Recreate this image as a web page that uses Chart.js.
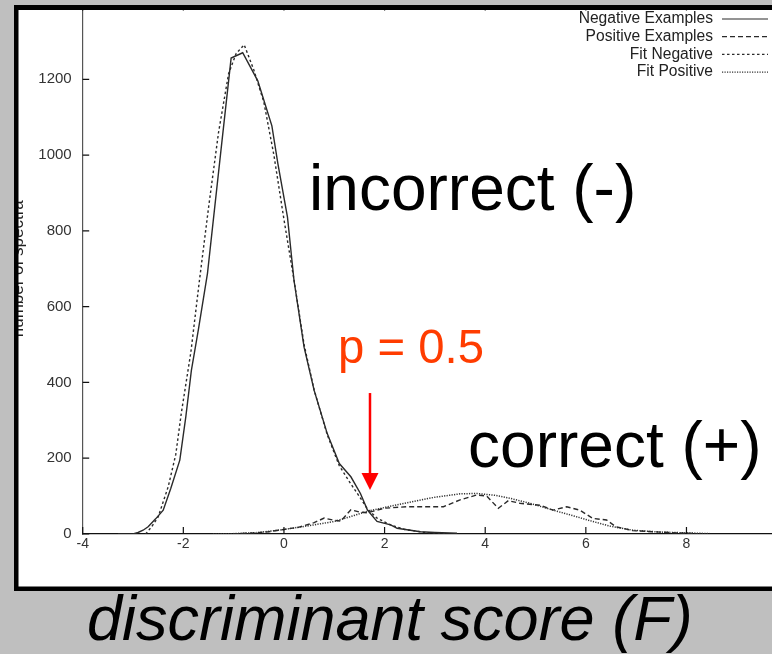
<!DOCTYPE html>
<html>
<head>
<meta charset="utf-8">
<script src="https://cdn.jsdelivr.net/npm/chart.js@4.4.1/dist/chart.umd.min.js"></script>
<style>
  html, body { margin: 0; padding: 0; background: #bfbfbf; }
  #wrap { width: 772px; height: 654px; }
</style>
</head>
<body>
<div id="wrap"><canvas id="scoreChart" width="772" height="654"></canvas></div>
<script>
/* values: discriminant score (x) vs number of spectra (y) */
const negX = [-3.3, -3.0, -2.9, -2.8, -2.7, -2.55, -2.4, -2.25, -2.07, -1.95, -1.84, -1.7, -1.52, -1.25, -1.05, -0.82, -0.52, -0.24, -0.12, 0.07, 0.2, 0.4, 0.6, 0.86, 1.1, 1.33, 1.52, 1.66, 1.85, 2.12, 2.25, 2.71, 3.0, 3.44];
const negY = [0, 0, 4, 10, 19, 40, 63, 120, 195, 310, 432, 540, 688, 1015, 1256, 1270, 1196, 1077, 977, 836, 669, 493, 379, 265, 186, 151, 107, 63, 33, 24, 15, 6, 4, 2];

const posX = [-1.0, -0.6, -0.3, 0, 0.3, 0.6, 0.8, 1.0, 1.13, 1.33, 1.5, 1.66, 1.99, 2.45, 2.85, 3.17, 3.5, 3.83, 4.03, 4.26, 4.46, 4.69, 5.09, 5.35, 5.62, 5.88, 6.14, 6.41, 6.6, 6.93, 7.33, 7.8, 8.2];
const posY = [0, 3, 6, 12, 18, 30, 42, 36, 34, 64, 58, 56, 68, 72, 72, 72, 90, 103, 100, 68, 88, 81, 76, 63, 72, 63, 41, 37, 19, 9, 6, 3, 1];

const fitNegX = [-2.75, -2.63, -2.5, -2.3, -2.15, -2.04, -1.85, -1.68, -1.5, -1.3, -1.1, -0.95, -0.79, -0.6, -0.4, -0.2, 0, 0.2, 0.4, 0.6, 0.86, 1.1, 1.33, 1.52, 1.66, 1.85, 2.1, 2.4, 2.8, 3.2];
const fitNegY = [0, 19, 45, 125, 210, 319, 480, 669, 860, 1060, 1215, 1268, 1291, 1225, 1140, 1000, 830, 670, 500, 380, 262, 180, 132, 95, 66, 42, 25, 12, 4, 1];

const fitPosX = [-1.41, -1.0, -0.5, 0, 0.5, 1.0, 1.3, 1.66, 2.0, 2.5, 3.0, 3.5, 3.83, 4.2, 4.5, 4.89, 5.35, 5.75, 6.14, 6.5, 6.93, 7.5, 8.0, 8.46];
const fitPosY = [0, 1, 4, 12, 22, 33, 45, 60, 70, 84, 97, 106, 107, 102, 94, 81, 63, 48, 33, 20, 10, 5, 3, 1];

const seriesNames = ["Negative Examples", "Positive Examples", "Fit Negative", "Fit Positive"];
const xTicks = [-4, -2, 0, 2, 4, 6, 8];
const yTicks = [0, 200, 400, 600, 800, 1000, 1200];

const FONT = "'Liberation Sans', Arial, Helvetica, sans-serif";
const SLIDE_GRAY = "#bfbfbf";

const toPoints = function(xs, ys) {
  return xs.map((x, i) => ({ x: x, y: ys[i] }));
};

const lineSet = function(label, xs, ys, dash, color, width) {
  return {
    label: label,
    data: toPoints(xs, ys),
    showLine: true,
    borderColor: color,
    borderWidth: width,
    borderDash: dash,
    pointRadius: 0,
    tension: 0,
    fill: false
  };
};

// gnuplot-ish frame, inward ticks, key and the slide annotations
const slideDecor = {
  id: "slideDecor",
  beforeDraw(chart) {
    const ctx = chart.ctx;
    ctx.save();
    ctx.fillStyle = SLIDE_GRAY;
    ctx.fillRect(0, 0, chart.width, chart.height);
    ctx.fillStyle = "#ffffff";
    ctx.fillRect(14, 5, chart.width - 14, 586);
    ctx.restore();
  },
  afterDraw(chart) {
    const ctx = chart.ctx;
    const xs = chart.scales.x, ys = chart.scales.y;
    const area = chart.chartArea;
    ctx.save();

    // inward tick marks
    ctx.strokeStyle = "#111";
    ctx.lineWidth = 1.2;
    ctx.setLineDash([]);
    ctx.beginPath();
    xTicks.forEach(v => {
      const px = xs.getPixelForValue(v);
      ctx.moveTo(px, area.bottom); ctx.lineTo(px, area.bottom - 7);
      ctx.moveTo(px, area.top); ctx.lineTo(px, area.top + 7);
    });
    yTicks.forEach(v => {
      const py = ys.getPixelForValue(v);
      ctx.moveTo(area.left, py); ctx.lineTo(area.left + 6.5, py);
    });
    ctx.moveTo(area.left, area.top); ctx.lineTo(area.right, area.top);
    ctx.stroke();

    // key, top right
    ctx.font = "15.6px " + FONT;
    ctx.fillStyle = "#222";
    ctx.textAlign = "right";
    ctx.textBaseline = "middle";
    chart.data.datasets.forEach((ds, i) => {
      const y = 19 + i * 17.7;
      ctx.fillText(ds.label, 713, y);
      ctx.strokeStyle = ds.borderColor;
      ctx.lineWidth = 1.2;
      ctx.setLineDash(ds.borderDash);
      ctx.beginPath();
      ctx.moveTo(722, y); ctx.lineTo(768, y);
      ctx.stroke();
    });
    ctx.setLineDash([]);

    // big labels
    ctx.textAlign = "left";
    ctx.textBaseline = "alphabetic";
    ctx.fillStyle = "#000";
    ctx.font = "64px " + FONT;
    ctx.fillText("incorrect (-)", xs.getPixelForValue(0.5), ys.getPixelForValue(855));
    ctx.fillText("correct (+)", xs.getPixelForValue(3.66), ys.getPixelForValue(177));
    ctx.fillStyle = "#ff3c00";
    ctx.font = "47.3px " + FONT;
    ctx.fillText("p = 0.5", xs.getPixelForValue(1.076), ys.getPixelForValue(451));

    // red arrow to the crossing point
    const ax = xs.getPixelForValue(1.71);
    const ay0 = ys.getPixelForValue(372), ay1 = ys.getPixelForValue(116);
    ctx.strokeStyle = "#ff0000";
    ctx.fillStyle = "#ff0000";
    ctx.lineWidth = 2.5;
    ctx.beginPath();
    ctx.moveTo(ax, ay0); ctx.lineTo(ax, ay1 - 14);
    ctx.stroke();
    ctx.beginPath();
    ctx.moveTo(ax - 8.5, ay1 - 17); ctx.lineTo(ax + 8.5, ay1 - 17); ctx.lineTo(ax, ay1);
    ctx.closePath();
    ctx.fill();

    // the plot is cropped by the slide: gray back outside the panel
    ctx.fillStyle = SLIDE_GRAY;
    ctx.fillRect(0, 0, chart.width, 5);
    ctx.fillRect(0, 0, 14, chart.height);

    // black panel frame
    ctx.fillStyle = "#000";
    ctx.fillRect(14, 5, chart.width - 14, 5);
    ctx.fillRect(14, 5, 4.5, 586);
    ctx.fillRect(14, 586.5, chart.width - 14, 4.5);

    // axis title under the panel
    ctx.fillStyle = "#000";
    ctx.font = "italic 63px " + FONT;
    ctx.fillText("discriminant score (F)", 87, 640);
    ctx.restore();
  }
};

const ctx = document.getElementById("scoreChart").getContext("2d");
const scoreChart = new Chart(ctx, {
  type: "scatter",
  data: {
    datasets: [
      lineSet(seriesNames[0], negX, negY, [], "#2a2a2a", 1.4),
      lineSet(seriesNames[1], posX, posY, [5, 3], "#2a2a2a", 1.4),
      lineSet(seriesNames[2], fitNegX, fitNegY, [2.5, 2.5], "#2a2a2a", 1.4),
      lineSet(seriesNames[3], fitPosX, fitPosY, [1.2, 1.3], "#333", 1.5)
    ]
  },
  options: {
    responsive: false,
    animation: false,
    layout: { padding: { top: 3.5, right: 0, bottom: 0, left: 0 } },
    plugins: { legend: { display: false }, tooltip: { enabled: false } },
    scales: {
      x: {
        type: "linear",
        min: -4,
        max: 9.7,
        afterBuildTicks: s => { s.ticks = xTicks.map(v => ({ value: v })); },
        afterFit: s => { s.height = 654 - 534; },
        ticks: {
          padding: 2,
          color: "#333",
          font: { family: FONT, size: 14 },
          maxRotation: 0,
          autoSkip: false,
          callback: v => String(v)
        },
        grid: { display: true, drawOnChartArea: false, drawTicks: false },
        border: { display: true, color: "#111", width: 1.2 }
      },
      y: {
        type: "linear",
        min: 0,
        max: 1400,
        afterBuildTicks: s => { s.ticks = yTicks.map(v => ({ value: v })); },
        afterFit: s => { s.width = 82.7; s.paddingTop = 0; s.paddingBottom = 0; },
        ticks: {
          padding: 11,
          color: "#333",
          font: { family: FONT, size: 15 },
          callback: v => String(v)
        },
        grid: { display: true, drawOnChartArea: false, drawTicks: false },
        border: { display: true, color: "#555", width: 1.2 },
        title: {
          display: true,
          text: "number of spectra",
          color: "#222",
          font: { family: FONT, size: 17 },
          padding: { top: 8, bottom: 0 }
        }
      }
    }
  },
  plugins: [slideDecor]
});
</script>
</body>
</html>
